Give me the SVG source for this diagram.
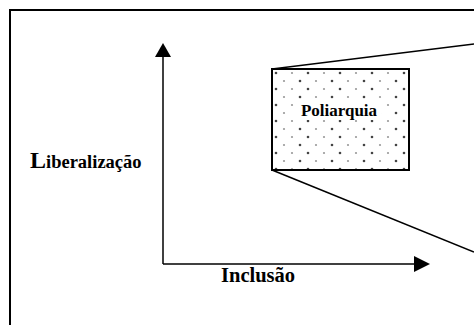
<svg xmlns="http://www.w3.org/2000/svg" width="474" height="325" viewBox="0 0 474 325">
<style>
.ln{stroke:#000;stroke-width:2;fill:none}
.thin{stroke:#000;stroke-width:1.5;fill:none}
.t{font-family:"Liberation Serif","Times New Roman",serif;font-weight:bold;fill:#000}
</style>
<defs>
<pattern id="dots" x="272" y="69" width="32" height="16" patternUnits="userSpaceOnUse">
<circle cx="4" cy="4" r="1.3" fill="#444"/>
<circle cx="20" cy="4" r="1.1" fill="#999"/>
<circle cx="12" cy="12" r="1.1" fill="#999"/>
<circle cx="28" cy="12" r="1.3" fill="#444"/>
</pattern>
</defs>
<rect width="474" height="325" fill="#fff"/>
<path class="ln" d="M10,335 V10 H484"/>
<g id="connectors">
<line class="thin" x1="163" y1="264" x2="163" y2="55"/>
<polygon points="163,43 171,57 155,57" fill="#000"/>
<line class="thin" x1="163" y1="264" x2="416" y2="264"/>
<polygon points="430,264 414,256 414,272" fill="#000"/>
<line class="thin" x1="272" y1="69" x2="474" y2="44"/>
<line class="thin" x1="272" y1="170" x2="474" y2="252"/>
</g>
<g id="poliarquia">
<rect x="272" y="69" width="137" height="101" fill="url(#dots)" stroke="#000" stroke-width="2"/>
<rect x="297" y="102" width="84" height="18" fill="#fff"/>
<text class="t" x="339" y="116" font-size="17" text-anchor="middle">Poliarquia</text>
</g>
<g id="liberalizacao">
<text class="t" x="30" y="168" font-size="18.5"><tspan font-size="24">L</tspan>iberalização</text>
</g>
<g id="inclusao">
<text class="t" x="221" y="282" font-size="20.5">Inclusão</text>
</g>
</svg>
